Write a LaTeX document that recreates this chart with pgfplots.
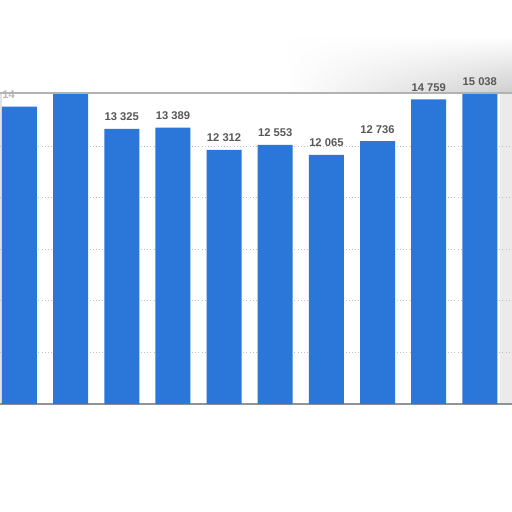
\documentclass[border=0pt]{standalone}
\usepackage{pgfplots}
\pgfplotsset{compat=1.18}
\usepackage{fontspec}
\setmainfont{Liberation Sans}
\usetikzlibrary{fadings}
\definecolor{barblue}{RGB}{43,118,217}
\definecolor{lblgray}{RGB}{88,88,88}
\begin{document}
\begin{tikzpicture}
\useasboundingbox[fill=white] (0,0) rectangle (384pt,384pt);
% edges of the screenshot
\fill[gray!22] (0,81pt) rectangle (1.5pt,314.25pt);
\fill[gray!16] (375pt,80pt) rectangle (384pt,314.25pt);
\shade[left color=white, right color=gray!38, path fading=north] (215pt,314.25pt) rectangle (384pt,356pt);
\begin{axis}[
    at={(0pt,81pt)}, anchor=south west,
    scale only axis,
    width=384pt, height=233.25pt,
    xmin=-0.381, xmax=9.629,
    ymin=0, ymax=15068,
    ybar, bar width=26.25pt,
    axis line style={draw=none},
    xtick=\empty,
    ytick={2500,5000,7500,10000,12500},
    yticklabel=\empty,
    scaled y ticks=false,
    major tick length=0pt,
    ymajorgrids,
    grid style={dotted, gray!50, line width=0.6pt},
    extra y ticks={0},
    extra y tick labels={},
    extra y tick style={grid style={solid, gray!85, line width=1.3pt}},
    point meta=explicit symbolic,
    nodes near coords,
    every node near coord/.append style={font=\bfseries\fontsize{8.4}{9}\selectfont,
        text=lblgray, anchor=base, yshift=6pt, inner sep=0pt},
    clip mode=individual,
    ]
    \addplot[draw=none, fill=barblue] coordinates {
        (0,14404) [\textcolor{gray!55}{14}\phantom{ 404}]
        (1,15150) [\mbox{}]
        (2,13325) [13 325]
        (3,13389) [13 389]
        (4,12312) [12 312]
        (5,12553) [12 553]
        (6,12065) [12 065]
        (7,12736) [12 736]
        (8,14759) [14 759]
        (9,15038) [15 038]
    };
\end{axis}
\draw[gray!60, line width=1pt] (0,314.25pt) -- (384pt,314.25pt);
\end{tikzpicture}
\end{document}
